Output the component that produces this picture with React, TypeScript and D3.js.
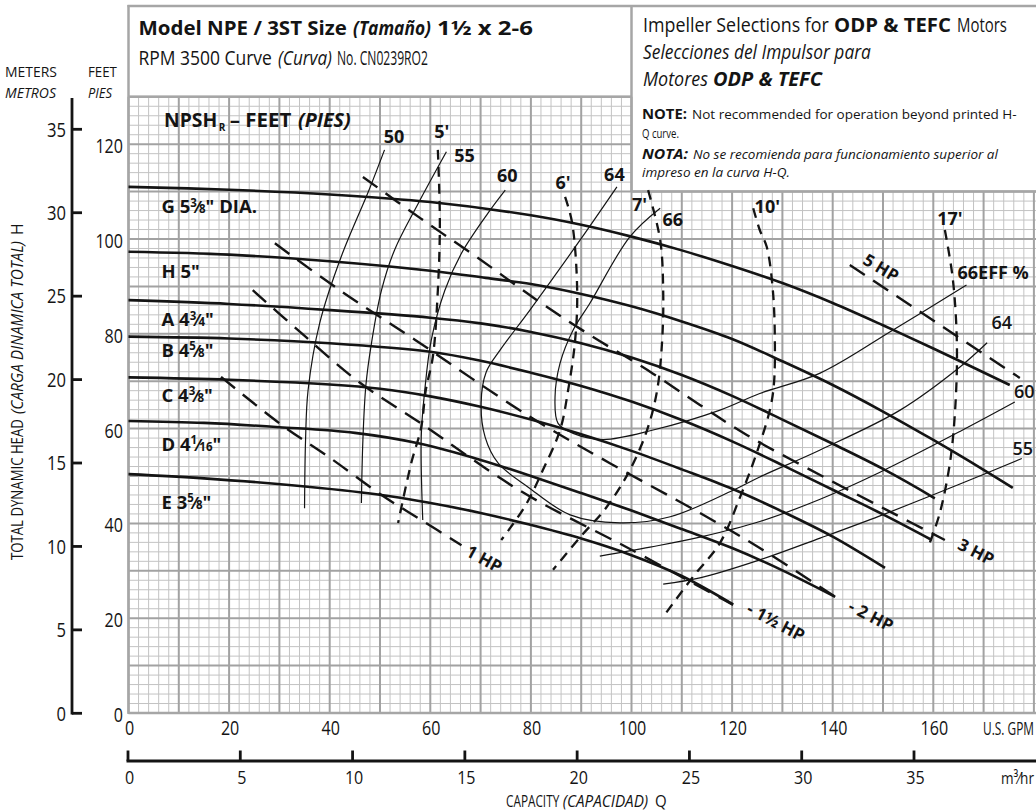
import React, { useLayoutEffect, useRef, useState } from "react";
import * as d3 from "d3";

type P = [number, number];

// ---------------- axis ticks ----------------
const gpmTicks = [0, 20, 40, 60, 80, 100, 120, 140, 160];
const feetTicks = [0, 20, 40, 60, 80, 100, 120];
const meterTicks = [0, 5, 10, 15, 20, 25, 30, 35];
const m3hTicks = [0, 5, 10, 15, 20, 25, 30, 35];

// ---------------- head-capacity curves (gpm, ft) ----------------
const headG: P[] = [[0, 111], [20, 110.4], [40, 109.4], [60, 107.8], [80, 105], [90, 103], [100, 100.5], [110, 97.6], [120, 94.3], [130, 90.7], [140, 86.5], [150, 81.8], [160, 76.9], [175.2, 69.2]];
const headH: P[] = [[0, 97.3], [20, 96.7], [40, 95.3], [60, 93.3], [71, 91.8], [80, 90.5], [90, 88.4], [100, 85.8], [110, 82.6], [120, 78.9], [130, 74.2], [140, 69.2], [150, 63.6], [160, 57.6], [170, 51.3], [175.8, 47.5]];
const headA: P[] = [[0, 87.1], [20, 86.3], [40, 85], [60, 83.4], [70, 82.2], [80, 80.4], [90, 78], [100, 75], [110, 71.3], [120, 66.9], [130, 61.9], [140, 56.8], [150, 51.5], [160.3, 45.3]];
const headB: P[] = [[0, 79.4], [20, 79], [40, 78], [60, 76.2], [70, 74.3], [80, 71.8], [90, 69], [100, 65.7], [110, 61.8], [120, 57.3], [130, 52.3], [140, 47.1], [150, 41.9], [159.7, 36.5]];
const headC: P[] = [[0, 70.8], [20, 70.3], [40, 69.3], [50, 68.4], [60, 66.8], [70, 64.6], [80, 61.9], [90, 58.8], [100, 55.3], [110, 51.4], [120, 47.3], [130, 42.5], [140, 37.2], [150.4, 30.6]];
const headD: P[] = [[0, 61.6], [15, 61.2], [30, 60.3], [45, 59.1], [57.6, 56.9], [70, 53.4], [80, 50], [90, 46.4], [100, 42.7], [110, 38.8], [120, 34.8], [130, 30.1], [140.5, 24.5]];
const headE: P[] = [[0, 50.4], [15, 49.5], [33, 48], [49.6, 46.1], [59.5, 44.4], [70, 42.2], [79.5, 39.8], [90, 36.8], [100, 33.3], [110, 28.9], [120.2, 22.9]];

const impellerNames = ["G", "H", "A", "B", "C", "D", "E"];
const impellerWhole = ["5", "5", "4", "4", "4", "4", "3"];
const impellerNum = ["3", "", "3", "5", "3", "1", "5"];
const impellerDen = ["8", "", "4", "8", "8", "16", "8"];
const impellerTail = ['" DIA.', '"', '"', '"', '"', '"', '"'];
const impellerCurves = [headG, headH, headA, headB, headC, headD, headE];
const impellerLabelFt = [106.8, 93.2, 83.0, 76.6, 67.1, 56.7, 44.4];

// ---------------- efficiency curves (gpm, ft) ----------------
const eff50: P[] = [[50.9, 118.8], [47.8, 110.3], [42.3, 96.3], [38.0, 82.2], [35.7, 68.1], [35.2, 57.6], [35.0, 43.2]];
const eff55L: P[] = [[63.2, 118.4], [57.6, 107.5], [52.9, 97.7], [50.3, 89.2], [48.3, 78.0], [47.2, 69.2], [46.6, 57.6], [46.3, 44.3]];
const eff60L: P[] = [[74.9, 110.3], [71.5, 105.5], [66.2, 97.0], [62.9, 89.2], [60.2, 78.7], [58.9, 68.1], [58.2, 58.3], [58.5, 40.7]];
const eff64: P[] = [[97.1, 111.0], [89.8, 99.8], [79.8, 85.0], [73.9, 76.6], [71.1, 71.9], [70.1, 65.4], [70.9, 58.2], [73.5, 52.7], [79.4, 47.7], [87.8, 41.8], [97.7, 40.1], [107.7, 41.4], [120.2, 47.0], [125.5, 49.8], [137.5, 55.5], [153.4, 63.9], [165.3, 73.0], [170.7, 78.1]];
const eff66: P[] = [[105.7, 106.5], [99.7, 100.5], [91.7, 86.4], [88.4, 80.8], [85.8, 73.8], [84.8, 66.7], [85.4, 61.1], [88.4, 59.0], [94.4, 57.7], [104.3, 59.7], [117.6, 63.9], [125.5, 67.4], [137.5, 71.7], [152.0, 80.8], [166.6, 90.3]];
const eff60R: P[] = [[93.7, 33.1], [103.7, 35.0], [113.6, 37.1], [125.5, 40.4], [137.5, 45.1], [149.4, 50.8], [165.3, 59.4], [176.2, 65.6]];
const eff55R: P[] = [[106.3, 27.2], [113.6, 28.5], [125.5, 32.3], [137.5, 36.9], [149.4, 41.6], [165.3, 48.3], [177.6, 53.7]];
const effCurves = [eff50, eff55L, eff60L, eff64, eff66, eff60R, eff55R];

const effLabelText = ["50", "55", "60", "64", "66", "66EFF %", "64", "60", "55"];
const effLabelPos: P[] = [[52.8, 121.7], [66.8, 117.7], [75.3, 113.4], [96.6, 113.7], [108.2, 104.2], [171.9, 92.9], [173.6, 82.3], [178.1, 67.8], [177.8, 55.9]];

// ---------------- NPSHr curves (gpm, ft) ----------------
const npsh5: P[] = [[61.5, 118.8], [61.9, 103.4], [61.5, 89.2], [60.5, 75.1], [59.1, 68.1], [58.2, 60.3], [56.2, 52.7], [53.6, 40.1]];
const npsh6: P[] = [[86.8, 108.9], [88.2, 103.4], [89.2, 89.2], [88.8, 78.7], [87.4, 68.1], [85.8, 59.7], [82.4, 51.3], [79.2, 44.3], [76.0, 39.2], [74.1, 36.5]];
const npsh7: P[] = [[103.3, 110.3], [105.7, 99.8], [106.3, 89.2], [106.1, 78.7], [105.1, 68.1], [103.1, 59.7], [99.7, 51.3], [95.1, 43.5], [89.8, 37.1], [84.4, 30.2]];
const npsh10: P[] = [[124.2, 106.5], [125.5, 101.9], [126.9, 98.3], [128.1, 89.2], [128.5, 78.7], [128.3, 69.2], [127.5, 63.9], [124.9, 54.9], [121.6, 45.6], [117.6, 35.9], [112.2, 28.7], [106.3, 20.3]];
const npsh17: P[] = [[162.3, 101.9], [163.9, 91.4], [164.7, 77.2], [164.3, 63.3], [163.3, 52.7], [161.3, 42.2], [159.3, 35.9]];
const npshCurves = [npsh5, npsh6, npsh7, npsh10, npsh17];
const npshLabelText = ["5'", "6'", "7'", "10'", "17'"];
const npshLabelPos: P[] = [[62.3, 122.6], [86.4, 111.9], [101.6, 107.2], [127.0, 106.8], [163.3, 104.3]];

// ---------------- horsepower lines (gpm, ft) ----------------
const hp1: P[] = [[18.4, 70.9], [30.4, 60.8], [39.7, 54.1], [50.3, 46.0], [58.2, 40.7], [66.2, 35.4]];
const hp15: P[] = [[24.7, 89.2], [34.1, 80.4], [45.6, 70.0], [58.0, 61.2], [78.0, 46.8], [99.7, 34.6], [120.2, 22.8]];
const hp2: P[] = [[29.1, 99.1], [42.0, 89.2], [57.0, 78.7], [79.2, 62.9], [95.7, 52.7], [113.6, 42.2], [125.5, 34.8], [140.5, 24.5]];
const hp3: P[] = [[46.6, 113.1], [58.0, 104.4], [69.5, 96.0], [81.2, 87.1], [91.8, 79.7], [103.1, 72.4], [113.6, 65.0], [123.0, 58.6], [137.5, 50.2], [150.8, 42.8], [162.3, 36.5]];
const hp5: P[] = [[143.4, 94.5], [177.2, 70.7]];
const hpCurves = [hp1, hp15, hp2, hp3, hp5];
const hpLabelText = ["1 HP", "- 1½ HP", "- 2 HP", "3 HP", "5 HP"];
const hpLabelPos: P[] = [[70.7, 32.5], [128.7, 19.2], [147.6, 20.5], [168.5, 34.0], [149.6, 93.9]];
const hpLabelAngle = [29, 28, 27, 27, 31];

// ---------------- layout ----------------
const W = 1036;
const H = 812;
const FONT = "'Open Sans', 'Noto Sans', 'DejaVu Sans', sans-serif";
const INK = "#141414";
const MAJ = "#a2a2a2";
const MIN = "#c3c3c3";

const x = d3.scaleLinear().domain([0, 180]).range([128.5, 128.5 + 180 * 5.03]);
const y = d3.scaleLinear().domain([0, 130]).range([713, 713 - 130 * 4.74]);
const xm = d3.scaleLinear().domain([0, 35]).range([128, 914]);
const ym = d3.scaleLinear().domain([0, 35]).range([713.3, 129.3]);

type FitProps = {
  x0: number;
  w: number;
  y: number;
  size: number;
  bold?: boolean;
  italic?: boolean;
  anchor?: "start" | "middle" | "end";
  children: React.ReactNode;
};

// Text drawn in a condensed face: the font size is chosen so that the natural
// width equals w, and the glyphs are stretched vertically to the wanted size.
function Fit({ x0, w, y, size, bold, italic, anchor = "start", children }: FitProps) {
  const ref = useRef<SVGTextElement>(null);
  const [fs, setFs] = useState(size);
  useLayoutEffect(() => {
    const el = ref.current;
    if (!el) return;
    const nat = el.getComputedTextLength();
    if (nat > 0) setFs((size * w) / nat);
  }, []);
  const ky = size / fs;
  return (
    <text
      ref={ref}
      transform={`translate(${x0},${y}) scale(1,${ky})`}
      x={0}
      y={0}
      fontSize={fs}
      fontWeight={bold ? 700 : 400}
      fontStyle={italic ? "italic" : "normal"}
      textAnchor={anchor}
      fill={INK}
    >
      {children}
    </text>
  );
}

function Frac({ n, d, s }: { n: string; d: string; s: number }) {
  if (!n) return null;
  return (
    <>
      <tspan fontSize={s * 0.62} dy={-s * 0.36}>{n}</tspan>
      <tspan fontSize={s * 0.9} dy={s * 0.36}>⁄</tspan>
      <tspan fontSize={s * 0.62}>{d}</tspan>
    </>
  );
}

export default function App() {
  const line = d3
    .line<P>()
    .x((d) => x(d[0]))
    .y((d) => y(d[1]))
    .curve(d3.curveCatmullRom.alpha(0.5));

  const gridX = d3.range(0, 182, 2);
  const gridY = d3.range(0, 131, 2);
  const vTop = (g: number) => (g > 100 ? y(110) : y(130));
  const hRight = (f: number) => (f > 110 ? x(100) : W);

  return (
    <svg
      width={W}
      height={H}
      viewBox={`0 0 ${W} ${H}`}
      style={{ position: "absolute", left: 0, top: 0, background: "#fff" }}
      fontFamily={FONT}
    >
      <rect x={0} y={0} width={W} height={H} fill="#fff" />
      {/* minor grid */}
      <g stroke={MIN} strokeWidth={1}>
        {gridX.filter((g) => g % 10 !== 0).map((g) => (
          <line key={"mx" + g} x1={x(g)} x2={x(g)} y1={vTop(g)} y2={y(0)} />
        ))}
        {gridY.filter((f) => f % 10 !== 0).map((f) => (
          <line key={"my" + f} x1={x(0)} x2={hRight(f)} y1={y(f)} y2={y(f)} />
        ))}
      </g>
      {/* major grid */}
      <g stroke={MAJ} strokeWidth={2}>
        {gridX.filter((g) => g % 10 === 0).map((g) => (
          <line key={"Mx" + g} x1={x(g)} x2={x(g)} y1={vTop(g)} y2={y(0)} />
        ))}
        {gridY.filter((f) => f % 10 === 0).map((f) => (
          <line key={"My" + f} x1={x(0)} x2={hRight(f)} y1={y(f)} y2={y(f)} />
        ))}
      </g>
      {/* header boxes */}
      <g stroke="#a6a6a6" strokeWidth={2.5}>
        <line x1={127.5} x2={W} y1={6} y2={6} />
        <line x1={x(0)} x2={x(0)} y1={5} y2={y(0) + 1} />
        <line x1={x(100)} x2={x(100)} y1={5} y2={y(110)} />
        <line x1={x(100)} x2={W} y1={y(110)} y2={y(110)} />
        <line x1={x(0)} x2={x(100)} y1={y(130)} y2={y(130)} />
        <line x1={x(0)} x2={W} y1={y(0)} y2={y(0)} />
      </g>

      {/* header text */}
      <Fit x0={138.5} w={208.5} y={35} size={20} bold>Model NPE / 3ST Size</Fit>
      <Fit x0={353} w={78} y={35} size={20} bold italic>(Tamaño)</Fit>
      <Fit x0={437} w={96} y={35} size={20} bold>1½ x 2-6</Fit>
      <Fit x0={138.5} w={133.5} y={64.5} size={20}>RPM 3500 Curve</Fit>
      <Fit x0={278} w={54} y={64.5} size={20} italic>(Curva)</Fit>
      <Fit x0={337} w={91} y={64.5} size={20}>No. CN0239RO2</Fit>

      <Fit x0={643} w={186} y={31.5} size={20}>Impeller Selections for</Fit>
      <Fit x0={834} w={117} y={31.5} size={20} bold>ODP &amp; TEFC</Fit>
      <Fit x0={957} w={50} y={31.5} size={20}>Motors</Fit>
      <Fit x0={643} w={228} y={58.5} size={20} italic>Selecciones del Impulsor para</Fit>
      <Fit x0={643} w={65} y={86} size={20} italic>Motores</Fit>
      <Fit x0={713} w={109} y={86} size={20} bold italic>ODP &amp; TEFC</Fit>

      <Fit x0={642} w={45} y={119} size={13.5} bold>NOTE:</Fit>
      <Fit x0={692} w={325} y={119} size={13.5}>Not recommended for operation beyond printed H-</Fit>
      <Fit x0={642} w={37} y={137.5} size={13.5}>Q curve.</Fit>
      <Fit x0={642} w={46} y={158.5} size={13.5} bold italic>NOTA:</Fit>
      <Fit x0={693} w={305} y={158.5} size={13.5} italic>No se recomienda para funcionamiento superior al</Fit>
      <Fit x0={642} w={148} y={177} size={13.5} italic>impreso en la curva H-Q.</Fit>

      {/* efficiency curves */}
      <g fill="none" stroke={INK} strokeWidth={1.2}>
        {effCurves.map((c, i) => (
          <path key={"eff" + i} d={line(c) || ""} />
        ))}
      </g>
      {/* head curves */}
      <g fill="none" stroke={INK} strokeWidth={2.6}>
        {impellerCurves.map((c, i) => (
          <path key={"hq" + i} d={line(c) || ""} />
        ))}
      </g>
      {/* NPSH dashed */}
      <g fill="none" stroke={INK} strokeWidth={2.3} strokeDasharray="10 7">
        {npshCurves.map((c, i) => (
          <path key={"np" + i} d={line(c) || ""} />
        ))}
      </g>
      {/* HP dashed */}
      <g fill="none" stroke={INK} strokeWidth={2.4} strokeDasharray="18 10">
        {hpCurves.map((c, i) => (
          <path key={"hp" + i} d={line(c) || ""} />
        ))}
      </g>

      {/* NPSH title */}
      <Fit x0={164} w={53.3} y={126.5} size={19} bold>NPSH</Fit>
      <Fit x0={218.7} w={6.6} y={130.5} size={11} bold>R</Fit>
      <Fit x0={229.7} w={61.6} y={126.5} size={19} bold>– FEET</Fit>
      <Fit x0={298} w={52.7} y={126.5} size={19} bold italic>(PIES)</Fit>

      {/* labels */}
      <g fill={INK} fontWeight={700}>
        {impellerNames.map((nm, i) => (
          <text key={"il" + i} x={161.5} y={y(impellerLabelFt[i]) + 6.6} fontSize={18.5}>
            {nm} {impellerWhole[i]}
            <Frac n={impellerNum[i]} d={impellerDen[i]} s={18.5} />
            <tspan>{impellerTail[i]}</tspan>
          </text>
        ))}
        {effLabelText.map((t, i) => (
          <text
            key={"el" + i}
            x={x(effLabelPos[i][0])}
            y={y(effLabelPos[i][1]) + 6.5}
            fontSize={18}
            textAnchor="middle"
            fontWeight={i >= 6 ? 600 : 700}
          >
            {t}
          </text>
        ))}
        {npshLabelText.map((t, i) => (
          <text key={"nl" + i} x={x(npshLabelPos[i][0])} y={y(npshLabelPos[i][1]) + 6.5} fontSize={18} textAnchor="middle">
            {t}
          </text>
        ))}
        {hpLabelText.map((t, i) => {
          const cx = x(hpLabelPos[i][0]);
          const cy = y(hpLabelPos[i][1]);
          return (
            <text
              key={"hl" + i}
              transform={`translate(${cx},${cy}) rotate(${hpLabelAngle[i]})`}
              x={0}
              y={6}
              fontSize={17}
              textAnchor="middle"
            >
              {t}
            </text>
          );
        })}
      </g>

      {/* left axes */}
      <Fit x0={5} w={52} y={77} size={15}>METERS</Fit>
      <Fit x0={5} w={51} y={98} size={15} italic>METROS</Fit>
      <Fit x0={88} w={29} y={77} size={15}>FEET</Fit>
      <Fit x0={88} w={24} y={98} size={15} italic>PIES</Fit>
      <line x1={72} x2={72} y1={98} y2={ym(0) + 1.3} stroke={INK} strokeWidth={2.8} />
      {meterTicks.map((v) => (
        <g key={"mt" + v}>
          <line x1={72} x2={82} y1={ym(v)} y2={ym(v)} stroke={INK} strokeWidth={2.8} />
          <Fit x0={66} w={String(v).length * 9.5} y={ym(v) + 7.2} size={20} anchor="end">
            {v}
          </Fit>
        </g>
      ))}
      {feetTicks.map((v) => (
        <Fit key={"ft" + v} x0={123} w={String(v).length * 9.2} y={y(v) + 9} size={20} anchor="end">
          {v}
        </Fit>
      ))}
      <g transform="translate(23,0) rotate(-90)">
        <Fit x0={-560} w={141} y={0} size={17}>TOTAL DYNAMIC HEAD</Fit>
        <Fit x0={-414} w={173} y={0} size={17} italic>(CARGA DINAMICA TOTAL)</Fit>
        <Fit x0={-235} w={11.5} y={0} size={17}>H</Fit>
      </g>

      {/* bottom axes */}
      {gpmTicks.map((v) => (
        <Fit key={"gt" + v} x0={x(v) + 1} w={String(v).length * 9.2} y={735.3} size={20} anchor="middle">
          {v}
        </Fit>
      ))}
      <Fit x0={983} w={51} y={735.3} size={18}>U.S. GPM</Fit>
      <line x1={126.5} x2={W} y1={761} y2={761} stroke={INK} strokeWidth={3} />
      {m3hTicks.map((v) => (
        <g key={"m3" + v}>
          <line x1={xm(v)} x2={xm(v)} y1={750.5} y2={761} stroke={INK} strokeWidth={2.8} />
          <Fit x0={xm(v) + 1.5} w={String(v).length * 9.2} y={783.5} size={18} anchor="middle">
            {v}
          </Fit>
        </g>
      ))}
      <Fit x0={1001} w={33} y={783.5} size={17}>m³⁄hr</Fit>
      <Fit x0={506} w={53.3} y={806.5} size={16}>CAPACITY</Fit>
      <Fit x0={562.7} w={85.6} y={806.5} size={16} italic>(CAPACIDAD)</Fit>
      <Fit x0={655} w={11.7} y={806.5} size={16}>Q</Fit>
    </svg>
  );
}
